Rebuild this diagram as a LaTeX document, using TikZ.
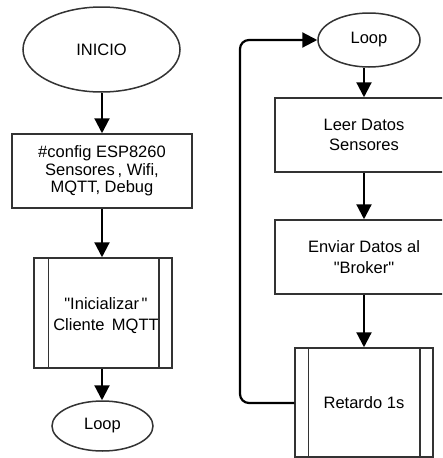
\documentclass[tikz,border=0pt]{standalone}
\usepackage{fontspec}
\setmainfont{Liberation Sans}
\usetikzlibrary{shapes.geometric,arrows.meta}
\newcommand{\dq}{\textquotedbl}
\begin{document}
\begin{tikzpicture}[x=1pt,y=-1pt,
  shapebox/.style={draw=black!80,line width=1.5pt,fill=white,align=center,inner sep=0pt,font=\fontsize{16.5}{19}\selectfont},
  oval/.style={shapebox,ellipse},
  conn/.style={line width=2.2pt,-{Triangle[length=15pt,width=15pt]}},
  subline/.style={draw=black!80,line width=1.5pt}]
\useasboundingbox (0,0) rectangle (442,458);
\clip (0,0) rectangle (442,458);
% left column
\node[oval,minimum width=157pt,minimum height=85pt] (ini) at (101.5,49.5) {INICIO};
\node[shapebox,minimum width=180pt,minimum height=74pt,font=\fontsize{16.5}{17.5}\selectfont] (cfg) at (102,171) {\#config ESP8260\\Sensores\,, Wifi,\\MQTT, Debug};
\node[shapebox,minimum width=138pt,minimum height=110pt] (sub) at (103,313) {};
\node[font=\fontsize{16.5}{21}\selectfont,align=center] (subt) at (106,316) {\dq Inicializar\,\dq\\Cliente\, MQTT};
\draw[subline] ([xshift=15pt]sub.north west) -- ([xshift=15pt]sub.south west);
\draw[subline] ([xshift=-14pt]sub.north east) -- ([xshift=-14pt]sub.south east);
\node[oval,minimum width=101pt,minimum height=50pt] (loopL) at (102.5,426) {Loop};
\draw[conn] (ini.south -| cfg.north) -- (cfg.north);
\draw[conn] (cfg.south) -- (cfg.south |- sub.north);
\draw[conn] (cfg.south |- sub.south) -- (cfg.south |- loopL.north);
% right column
\node[oval,minimum width=102pt,minimum height=54pt] (loopR) at (369,40) {Loop};
\node[shapebox,minimum width=178pt,minimum height=74pt,font=\fontsize{16.5}{20}\selectfont] (leer) at (364,135) {Leer Datos\\Sensores};
\node[shapebox,minimum width=178pt,minimum height=74pt,font=\fontsize{16.5}{21}\selectfont] (env) at (364,257) {Enviar Datos al\\\dq Broker\dq};
\node[shapebox,minimum width=138pt,minimum height=109pt] (ret) at (364,402.5) {Retardo 1s};
\draw[subline] ([xshift=14pt]ret.north west) -- ([xshift=14pt]ret.south west);
\draw[subline] ([xshift=-14pt]ret.north east) -- ([xshift=-14pt]ret.south east);
\draw[conn] (leer.north |- loopR.south) -- (leer.north);
\draw[conn] (leer.south) -- (env.north);
\draw[conn] (env.south) -- (ret.north);
\coordinate (bl) at (240,403);
\draw[conn,rounded corners=9pt] (ret.west |- bl) -- (bl) -- (bl |- loopR.west) -- (loopR.west);
\end{tikzpicture}
\end{document}
